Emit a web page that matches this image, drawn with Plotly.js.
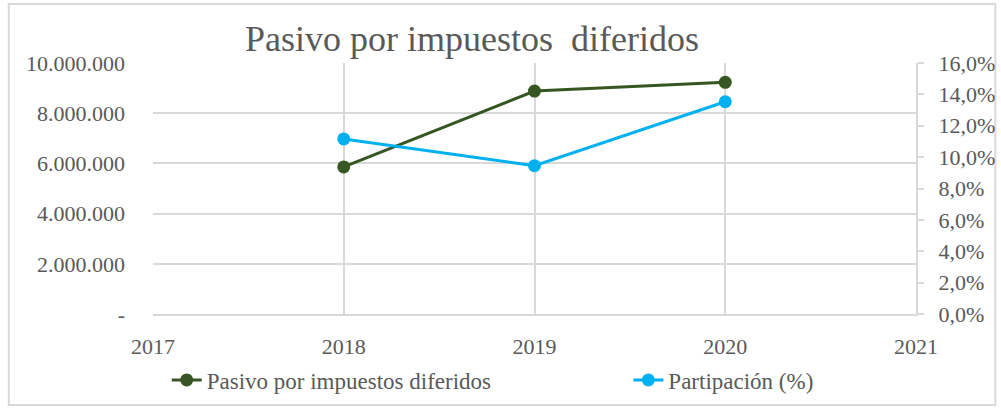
<!DOCTYPE html>
<html>
<head>
<meta charset="utf-8">
<script src="https://cdn.plot.ly/plotly-3.0.1.min.js"></script>
<style>html,body{margin:0;padding:0;background:#fff;}#chart{width:1001px;height:408px;}</style>
</head>
<body>
<div id="chart"></div>
<script>
const years = [2018, 2019, 2020];
const pasivo = [5860000, 8880000, 9230000];
const participacion = [0.1116, 0.0945, 0.1353];
const seriesNames = ["Pasivo por impuestos diferidos", "Partipación (%)"];
const chartTitle = "Pasivo por impuestos  diferidos";
const leftTickVals = [0, 2000000, 4000000, 6000000, 8000000, 10000000];
const leftTickText = ["-", "2.000.000", "4.000.000", "6.000.000", "8.000.000", "10.000.000"];
const xTickVals = [2017, 2018, 2019, 2020, 2021];

const textColor = "#595959";
const gridColor = "#d9d9d9";
const font = "Liberation Serif";

const traces = [
  {
    x: years, y: pasivo, name: seriesNames[0], type: "scatter", mode: "lines+markers",
    line: {color: "#375623", width: 3}, marker: {color: "#375623", size: 13},
    yaxis: "y", legend: "legend"
  },
  {
    x: years, y: participacion, name: seriesNames[1], type: "scatter", mode: "lines+markers",
    line: {color: "#00b0f0", width: 3}, marker: {color: "#00b0f0", size: 13},
    yaxis: "y2", legend: "legend2"
  }
];

const legendFont = {family: font, size: 23, color: textColor};
const layout = {
  width: 1001, height: 408,
  margin: {l: 153, r: 85, t: 63, b: 94, autoexpand: false},
  paper_bgcolor: "#fff", plot_bgcolor: "#fff",
  separators: ",.",
  font: {family: font, color: textColor, size: 22},
  title: {
    text: chartTitle, font: {family: font, size: 36, color: textColor},
    xref: "container", yref: "container", x: 0.4715, xanchor: "center", y: 0.905, yanchor: "middle"
  },
  showlegend: true,
  legend: {
    orientation: "h", x: 0.018, xanchor: "left", y: -0.263, yanchor: "middle",
    font: legendFont, bgcolor: "rgba(0,0,0,0)"
  },
  legend2: {
    orientation: "h", x: 0.623, xanchor: "left", y: -0.263, yanchor: "middle",
    font: legendFont, bgcolor: "rgba(0,0,0,0)"
  },
  xaxis: {
    range: [2017, 2021], tickvals: xTickVals, ticktext: xTickVals.map(String),
    showgrid: true, gridcolor: gridColor, gridwidth: 2,
    showline: true, linecolor: gridColor, linewidth: 2,
    ticks: "", zeroline: false, ticklabelstandoff: 12,
    tickfont: {family: font, size: 22, color: textColor}, fixedrange: true
  },
  yaxis: {
    range: [0, 10000000], tickvals: leftTickVals, ticktext: leftTickText,
    showgrid: true, gridcolor: gridColor, gridwidth: 2,
    showline: false, zeroline: false, ticks: "", ticklabelstandoff: 27,
    tickfont: {family: font, size: 22, color: textColor}, fixedrange: true
  },
  yaxis2: {
    range: [0, 0.16], dtick: 0.02, tickformat: ".1%", overlaying: "y", side: "right",
    showgrid: false, zeroline: false, showline: true, linecolor: gridColor, linewidth: 2,
    ticks: "outside", ticklen: 6, tickcolor: gridColor, tickwidth: 2, ticklabelstandoff: 10,
    tickfont: {family: font, size: 22, color: textColor}, fixedrange: true
  },
  shapes: [{
    type: "rect", xref: "paper", yref: "paper",
    x0: -0.189, x1: 1.104, y0: -0.3625, y1: 1.235,
    line: {color: gridColor, width: 2}, fillcolor: "rgba(0,0,0,0)", layer: "below"
  }]
};

Plotly.newPlot("chart", traces, layout, {displayModeBar: false, staticPlot: true});
</script>
</body>
</html>
